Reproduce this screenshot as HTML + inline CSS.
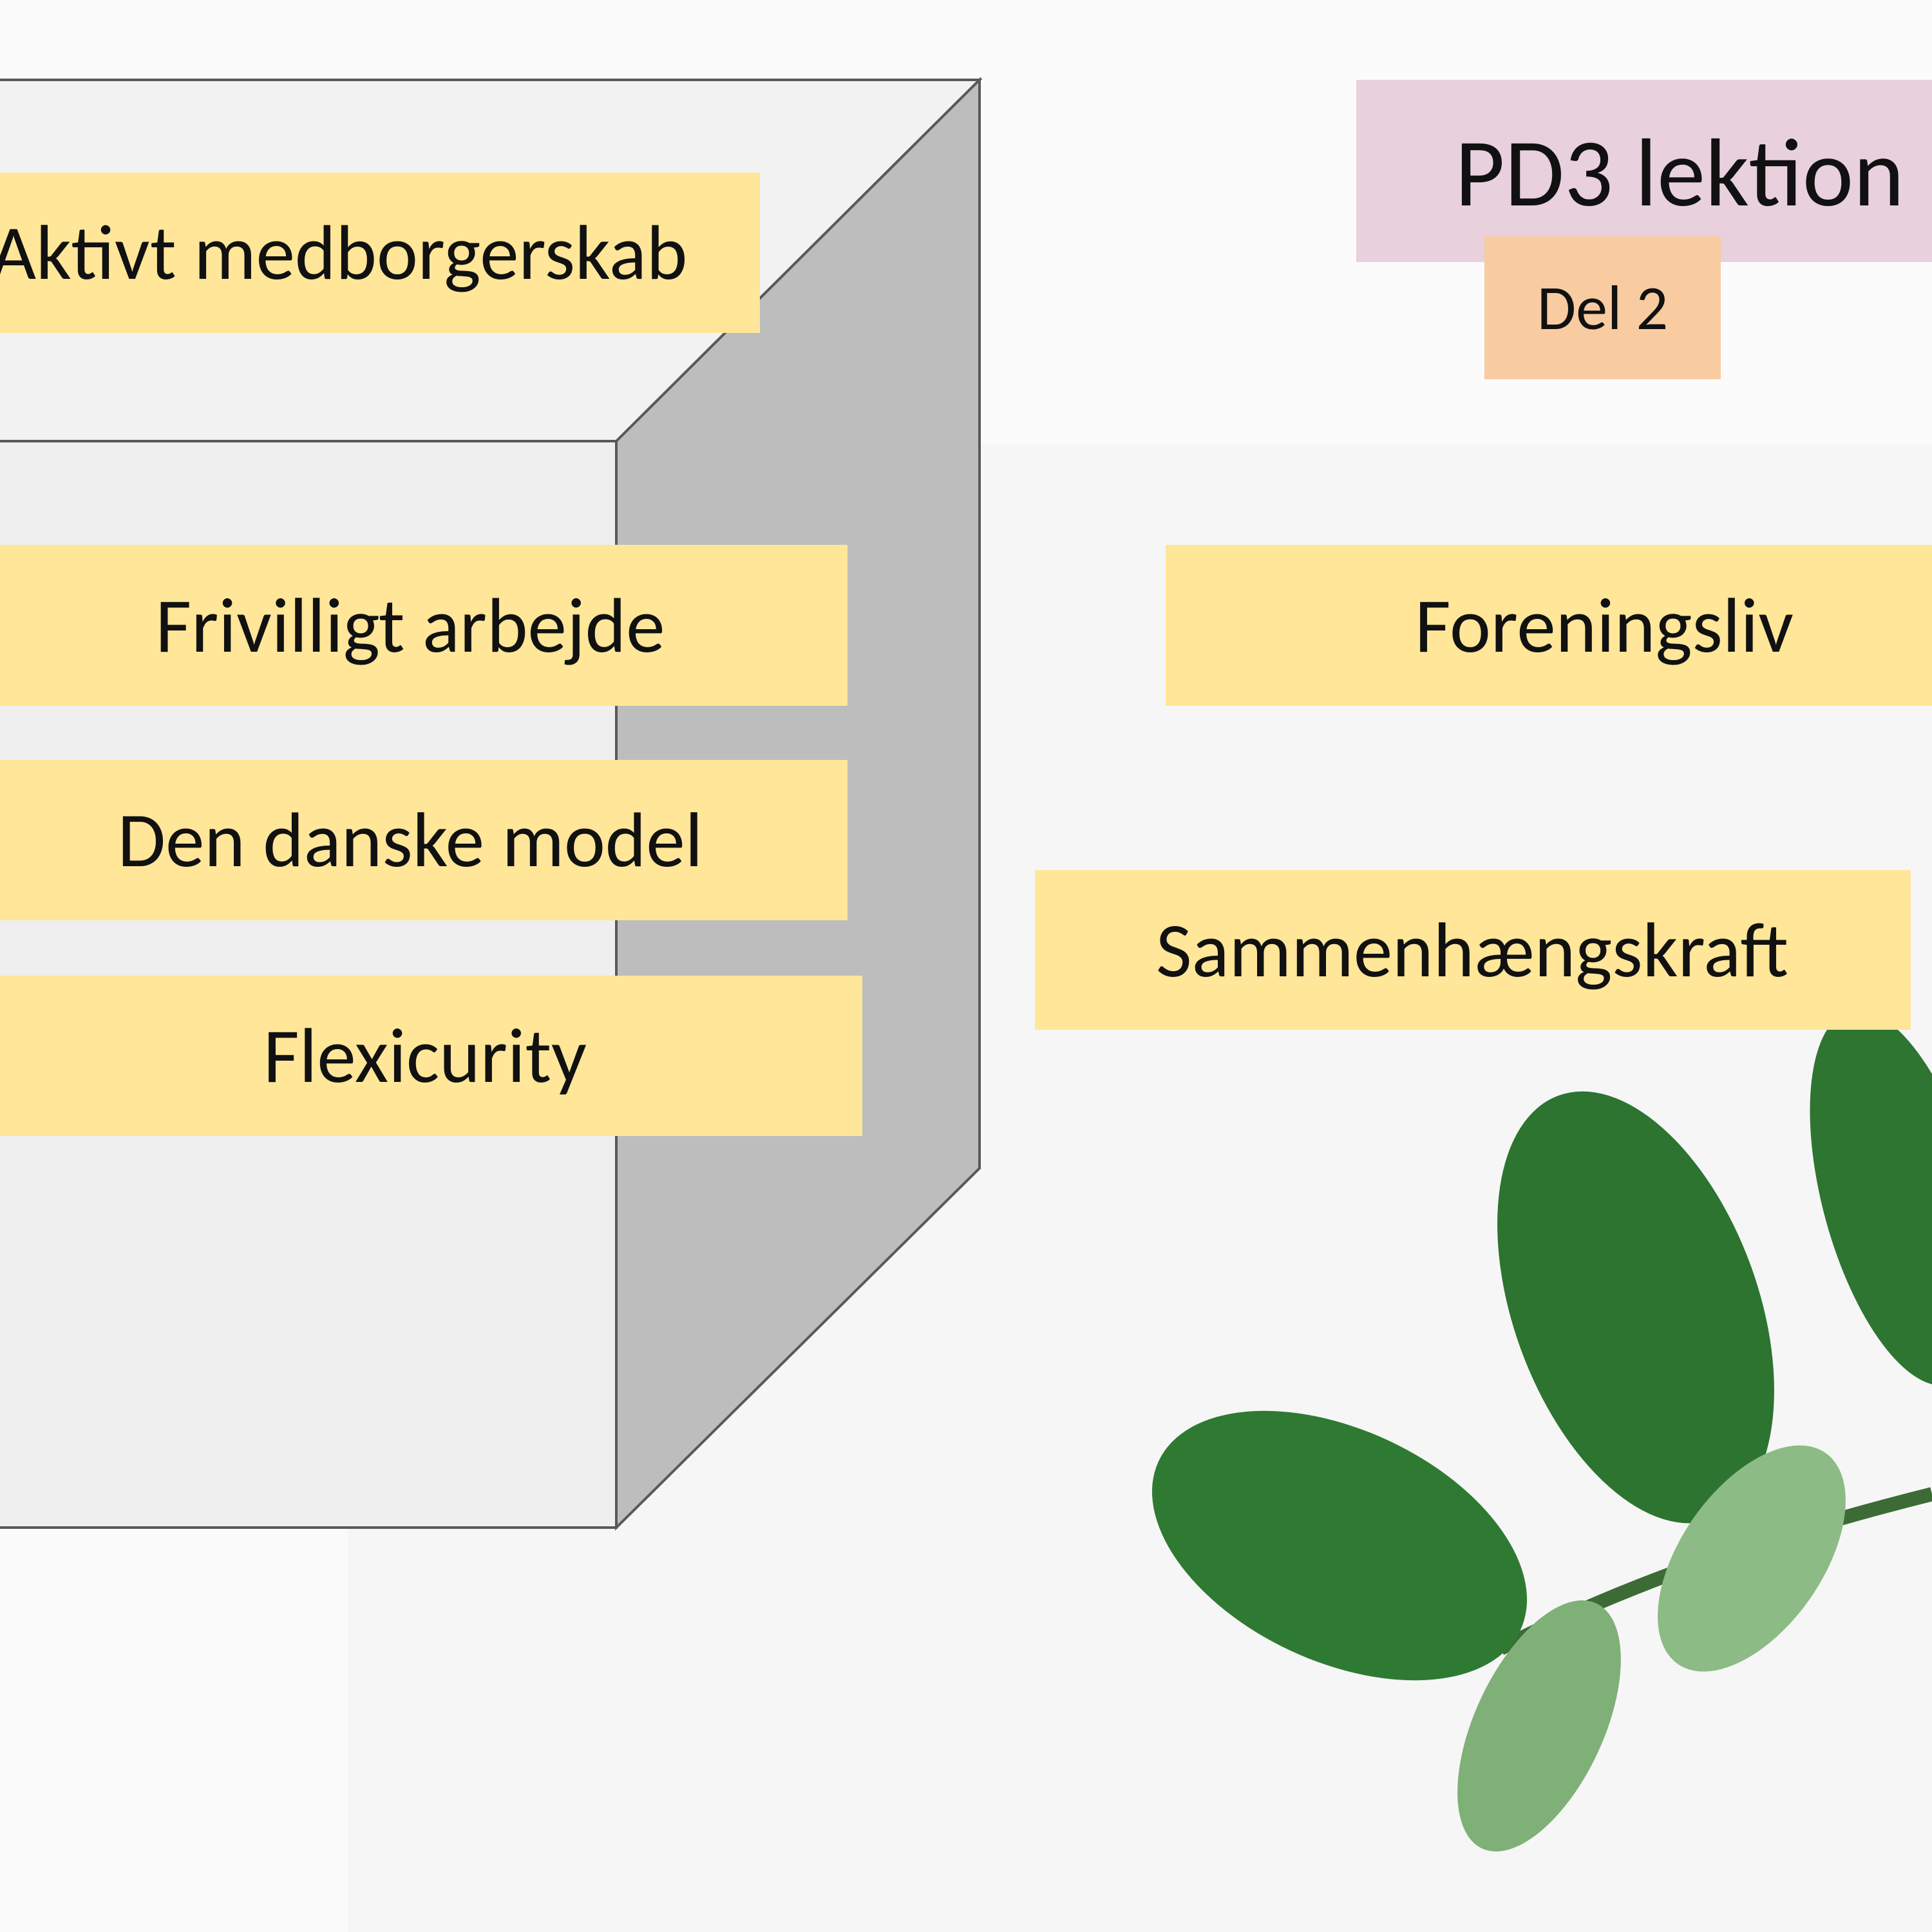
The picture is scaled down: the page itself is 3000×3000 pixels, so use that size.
<!DOCTYPE html>
<html><head><meta charset="utf-8"><style>
html,body{margin:0;padding:0;width:3000px;height:3000px;overflow:hidden;background:#fbfbfb;font-family:"Liberation Sans",sans-serif}
.b{position:absolute;background:#ffe699;color:#111;display:flex;align-items:center;justify-content:center;font-family:"Carlito","Liberation Sans",sans-serif;font-size:121px;white-space:nowrap}
</style></head><body>
<div style="position:absolute;left:540px;top:690px;width:2460px;height:2310px;background:#f6f6f6"></div>
<svg width="3000" height="3000" style="position:absolute;left:0;top:0">
<polygon points="-5,124 1521,124 957,685 -5,685" fill="#f2f2f2" stroke="#595959" stroke-width="4"/>
<polygon points="957,685 1521,124 1521,1814 957,2372" fill="#bdbdbd" stroke="#595959" stroke-width="4"/>
<polygon points="-5,685 957,685 957,2372 -5,2372" fill="#efefef" stroke="#595959" stroke-width="4"/>
<g>
<path d="M2330,2560 Q2600,2420 3000,2320" stroke="#3c6b35" stroke-width="22" fill="none"/>
<ellipse cx="2080" cy="2400" rx="310" ry="180" transform="rotate(25 2080 2400)" fill="#2f7a33"/>
<ellipse cx="2540" cy="2030" rx="190" ry="350" transform="rotate(-20 2540 2030)" fill="#2c7430"/>
<ellipse cx="2950" cy="1860" rx="120" ry="300" transform="rotate(-15 2950 1860)" fill="#2e7532"/>
<ellipse cx="2720" cy="2420" rx="110" ry="200" transform="rotate(35 2720 2420)" fill="#8dbb85"/>
<ellipse cx="2390" cy="2680" rx="100" ry="210" transform="rotate(25 2390 2680)" fill="#7fb077"/>
</g>
</svg>
<div class="b" style="left:0;top:268px;width:1180px;height:249px;justify-content:flex-start"><span style="margin-left:-14px">Aktivt medborgerskab</span></div>
<div class="b" style="left:0;top:846px;width:1316px;height:250px"><span style="position:absolute;left:637px;transform:translateX(-50%)">Frivilligt arbejde</span></div>
<div class="b" style="left:0;top:1180px;width:1316px;height:249px"><span style="position:absolute;left:637px;transform:translateX(-50%)">Den danske model</span></div>
<div class="b" style="left:0;top:1515px;width:1339px;height:249px"><span style="position:absolute;left:660px;transform:translateX(-50%)">Flexicurity</span></div>
<div class="b" style="left:1810px;top:846px;width:1190px;height:250px"><span style="position:absolute;left:681px;transform:translateX(-50%)">Foreningsliv</span></div>
<div class="b" style="left:1607px;top:1351px;width:1360px;height:248px"><span style="position:absolute;left:679px;transform:translateX(-50%)">Sammenhængskraft</span></div>
<div class="b" style="left:2106px;top:124px;width:894px;height:283px;background:#e8d0dc;font-size:150px;align-items:flex-start"><span style="position:absolute;left:502px;top:70px;transform:translateX(-50%);line-height:1">PD3 lektion</span></div>
<div class="b" style="left:2305px;top:367px;width:367px;height:222px;background:#f8cba0;font-size:98px">Del 2</div>
</body></html>
